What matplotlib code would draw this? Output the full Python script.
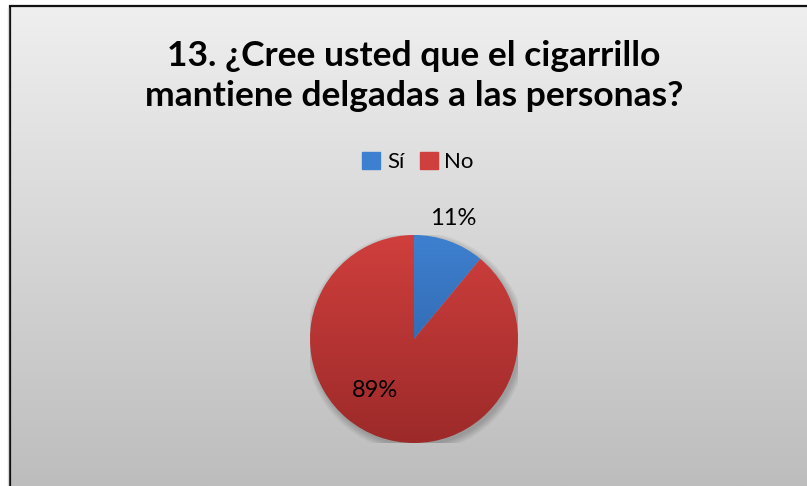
import numpy as np
import matplotlib.pyplot as plt
from matplotlib.colors import LinearSegmentedColormap
from matplotlib.patches import Circle

title = "13. ¿Cree usted que el cigarrillo\nmantiene delgadas a las personas?"
categories = ["Sí", "No"]
shares = [11, 89]

# top / bottom colours of each slice gradient
slice_top = ["#3e80d0", "#cf3f3d"]
slice_bottom = ["#2a5a9c", "#9c2a29"]

# label placement (fraction of radius, angle in degrees)
label_pos = [(1.22, 72), (0.62, -127)]

W, H = 807, 486
fig = plt.figure(figsize=(W / 100, H / 100), dpi=100)
fig.patch.set_facecolor("white")

# chart area: grey vertical gradient with a dark frame on top and left
bg = fig.add_axes([0, 0, 1, 1])
bg.set_xlim(0, W)
bg.set_ylim(H, 0)
bg.axis("off")
grad = np.linspace(0, 1, 256).reshape(-1, 1)
bg_cmap = LinearSegmentedColormap.from_list("bg", ["#efefef", "#bdbdbd"])
bg.imshow(grad, cmap=bg_cmap, extent=(10, W, H, 7), aspect="auto")
bg.plot([9.5, 9.5], [5.5, H], color="#111111", lw=1.6, solid_capstyle="butt")
bg.plot([9, W], [6, 6], color="#111111", lw=1.6, solid_capstyle="butt")
bg.plot([7.5, 7.5], [8, H], color="#d8d8d8", lw=1.0)

fonts = ["Lato", "DejaVu Sans"]
bg.text(414, 76, title, ha="center", va="center", fontsize=25.5,
        fontweight="bold", family=fonts, linespacing=1.28, color="black")

cx, cy, r = 414, 339, 104
ax = fig.add_axes([(cx - r) / W, (H - cy - r) / H, 2 * r / W, 2 * r / H])
wedges, _ = ax.pie(shares, startangle=90, counterclock=False, radius=1,
                   wedgeprops=dict(linewidth=0))
ax.set_xlim(-1.0, 1.0)
ax.set_ylim(-1.0, 1.0)

# soft shadow under the pie
for k in range(6):
    ax.add_patch(Circle((0.02, -0.03), 1.0 + 0.012 * k, color="black",
                        alpha=0.035, zorder=0, lw=0))

for w, top, bot in zip(wedges, slice_top, slice_bottom):
    w.set_facecolor("none")
    cmap = LinearSegmentedColormap.from_list("s", [top, bot])
    im = ax.imshow(grad, cmap=cmap, extent=(-1, 1, -1, 1), aspect="auto",
                   zorder=2)
    im.set_clip_path(w)

for val, (dist, ang) in zip(shares, label_pos):
    a = np.deg2rad(ang)
    ax.text(dist * np.cos(a), dist * np.sin(a), f"{val}%", ha="center",
            va="center", fontsize=17, family=fonts, zorder=5, clip_on=False)

# legend
handles = [plt.Rectangle((0, 0), 1, 1, color=c) for c in slice_top]
fig.legend(handles, categories, loc="center", bbox_to_anchor=(418 / W, 1 - 162 / H),
           ncol=2, frameon=False, prop=dict(family=fonts, size=16),
           handlelength=0.8, handleheight=0.8, handletextpad=0.3,
           columnspacing=0.7)

fig.savefig("out.png", dpi=100, facecolor=fig.get_facecolor())
